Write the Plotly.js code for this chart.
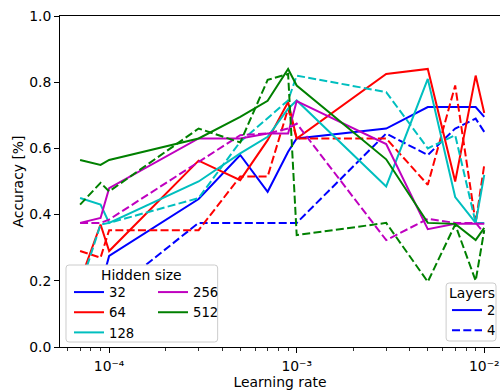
<!DOCTYPE html>
<html>
<head>
<meta charset="utf-8">
<script src="https://cdn.plot.ly/plotly-3.0.1.min.js"></script>
<style>html,body{margin:0;padding:0;background:#fff;}#chart{width:501px;height:390px;}</style>
</head>
<body>
<div id="chart"></div>
<script>
// Learning rates (x values)
const learningRates = [7e-5, 9e-5, 1e-4, 3e-4, 5e-4, 7e-4, 9e-4, 1e-3, 3e-3, 5e-3, 7e-3, 9e-3, 1e-2];

// Accuracy by hidden size and number of layers
const acc_h32_l2  = [0.20, 0.18, 0.275, 0.447, 0.58, 0.469, 0.59, 0.63, 0.66, 0.725, 0.725, 0.725, 0.695];
const acc_h32_l4  = [0.15, 0.14, 0.16, 0.375, 0.375, 0.375, 0.375, 0.375, 0.645, 0.58, 0.66, 0.69, 0.65];
const acc_h64_l2  = [0.20, 0.37, 0.29, 0.563, 0.504, 0.625, 0.74, 0.63, 0.825, 0.84, 0.50, 0.82, 0.707];
const acc_h64_l4  = [0.29, 0.27, 0.353, 0.353, 0.515, 0.515, 0.72, 0.63, 0.63, 0.49, 0.79, 0.375, 0.55];
const acc_h128_l2 = [0.45, 0.43, 0.375, 0.50, 0.585, 0.635, 0.72, 0.745, 0.485, 0.81, 0.453, 0.375, 0.52];
const acc_h128_l4 = [0.18, 0.37, 0.375, 0.45, 0.62, 0.69, 0.745, 0.82, 0.77, 0.60, 0.64, 0.375, 0.375];
const acc_h256_l2 = [0.375, 0.39, 0.48, 0.63, 0.63, 0.645, 0.645, 0.743, 0.613, 0.356, 0.372, 0.372, 0.372];
const acc_h256_l4 = [0.375, 0.375, 0.385, 0.56, 0.64, 0.645, 0.66, 0.675, 0.323, 0.387, 0.375, 0.375, 0.344];
const acc_h512_l2 = [0.565, 0.55, 0.565, 0.63, 0.695, 0.744, 0.84, 0.79, 0.567, 0.375, 0.372, 0.323, 0.36];
const acc_h512_l4 = [0.43, 0.496, 0.47, 0.66, 0.618, 0.807, 0.825, 0.338, 0.375, 0.197, 0.37, 0.20, 0.353];

// Tick labels
const xTickVals = [1e-4, 1e-3, 1e-2];
const xTickText = ['10\u207B\u2074', '10\u207B\u00B3', '10\u207B\u00B2'];

const hiddenSizes = ['32', '64', '128', '256', '512'];
const layerCounts = ['2', '4'];
const seriesTable = {
  '32':  [acc_h32_l2,  acc_h32_l4],
  '64':  [acc_h64_l2,  acc_h64_l4],
  '128': [acc_h128_l2, acc_h128_l4],
  '256': [acc_h256_l2, acc_h256_l4],
  '512': [acc_h512_l2, acc_h512_l4]
};

const colors = {'32': '#0000ff', '64': '#ff0000', '128': '#00bfbf', '256': '#bf00bf', '512': '#008000'};
const dashes = {'2': 'solid', '4': '8px,3.3px'};
const FONT = 'DejaVu Sans, Liberation Sans, sans-serif';
const FS = 13.9;

const traces = [];
hiddenSizes.forEach(h => {
  layerCounts.forEach((l, li) => {
    traces.push({
      x: learningRates, y: seriesTable[h][li], mode: 'lines',
      line: {color: colors[h], width: 2, dash: dashes[l]},
      showlegend: false, hoverinfo: 'skip'
    });
  });
});

// Legend proxies
hiddenSizes.forEach((h, i) => {
  traces.push({
    x: [null], y: [null], mode: 'lines', name: h,
    line: {color: colors[h], width: 2},
    legend: i < 3 ? 'legend' : 'legend2', showlegend: true
  });
});
layerCounts.forEach(l => {
  traces.push({
    x: [null], y: [null], mode: 'lines', name: l,
    line: {color: '#0000ff', width: 2, dash: dashes[l]},
    legend: 'legend3', showlegend: true
  });
});

function px2x(px) { return (px - 60) / 441; }
function py2y(py) { return (347 - py) / 331; }
function roundedBox(x0, y0, x1, y1, r) {
  const rx = r / 441, ry = r / 331;
  const X0 = px2x(x0), X1 = px2x(x1), Yt = py2y(y0), Yb = py2y(y1);
  return `M${X0 + rx},${Yt} L${X1 - rx},${Yt} Q${X1},${Yt} ${X1},${Yt - ry} L${X1},${Yb + ry} Q${X1},${Yb} ${X1 - rx},${Yb} L${X0 + rx},${Yb} Q${X0},${Yb} ${X0},${Yb + ry} L${X0},${Yt - ry} Q${X0},${Yt} ${X0 + rx},${Yt} Z`;
}

const legendCommon = {
  bgcolor: 'rgba(0,0,0,0)', borderwidth: 0, font: {family: FONT, size: 13.2, color: '#000'},
  xanchor: 'left', yanchor: 'top', orientation: 'v', tracegroupgap: 0
};

const layout = {
  width: 501, height: 390,
  margin: {l: 60, r: 0, t: 16, b: 43, pad: 0},
  paper_bgcolor: '#fff', plot_bgcolor: '#fff',
  font: {family: FONT, size: FS, color: '#000'},
  xaxis: {
    type: 'log', range: [-4.262, -1.916], tickmode: 'array', tickvals: xTickVals, ticktext: xTickText,
    showgrid: false, zeroline: false, showline: true, linecolor: '#000', linewidth: 1, mirror: true,
    ticks: 'outside', ticklen: 5, tickwidth: 1, tickcolor: '#000', ticklabelstandoff: 1,
    minor: {ticks: 'outside', ticklen: 3, tickwidth: 0.8, tickcolor: '#000', dtick: 'D1', showgrid: false},
    tickfont: {family: FONT, size: FS, color: '#000'},
    title: {text: 'Learning rate', font: {family: FONT, size: FS, color: '#000'}},
    automargin: false
  },
  yaxis: {
    range: [0, 1], dtick: 0.2, tick0: 0, tickformat: '.1f',
    showgrid: false, zeroline: false, showline: true, linecolor: '#000', linewidth: 1, mirror: false,
    ticks: 'outside', ticklen: 5, tickwidth: 1, tickcolor: '#000',
    tickfont: {family: FONT, size: FS, color: '#000'},
    title: {text: 'Accuracy [%]', font: {family: FONT, size: FS, color: '#000'}, standoff: 2},
    automargin: true
  },
  showlegend: true,
  legend:  Object.assign({}, legendCommon, {x: px2x(69), y: py2y(277)}),
  legend2: Object.assign({}, legendCommon, {x: px2x(153), y: py2y(277)}),
  legend3: Object.assign({}, legendCommon, {x: px2x(448), y: py2y(295)}),
  shapes: [
    {type: 'path', xref: 'paper', yref: 'paper', path: roundedBox(66, 265, 218, 342, 3),
     fillcolor: 'rgba(255,255,255,1)', line: {color: '#cccccc', width: 1}, layer: 'above'},
    {type: 'path', xref: 'paper', yref: 'paper', path: roundedBox(447, 283, 497, 341, 3),
     fillcolor: 'rgba(255,255,255,1)', line: {color: '#cccccc', width: 1}, layer: 'above'}
  ],
  annotations: [
    {text: 'Hidden size', xref: 'paper', yref: 'paper', x: px2x(142), y: py2y(275),
     xanchor: 'center', yanchor: 'middle', showarrow: false, font: {family: FONT, size: FS, color: '#000'}},
    {text: 'Layers', xref: 'paper', yref: 'paper', x: px2x(472.5), y: py2y(293),
     xanchor: 'center', yanchor: 'middle', showarrow: false, font: {family: FONT, size: FS, color: '#000'}}
  ]
};

Plotly.newPlot('chart', traces, layout, {displayModeBar: false, staticPlot: true});
</script>
</body>
</html>
